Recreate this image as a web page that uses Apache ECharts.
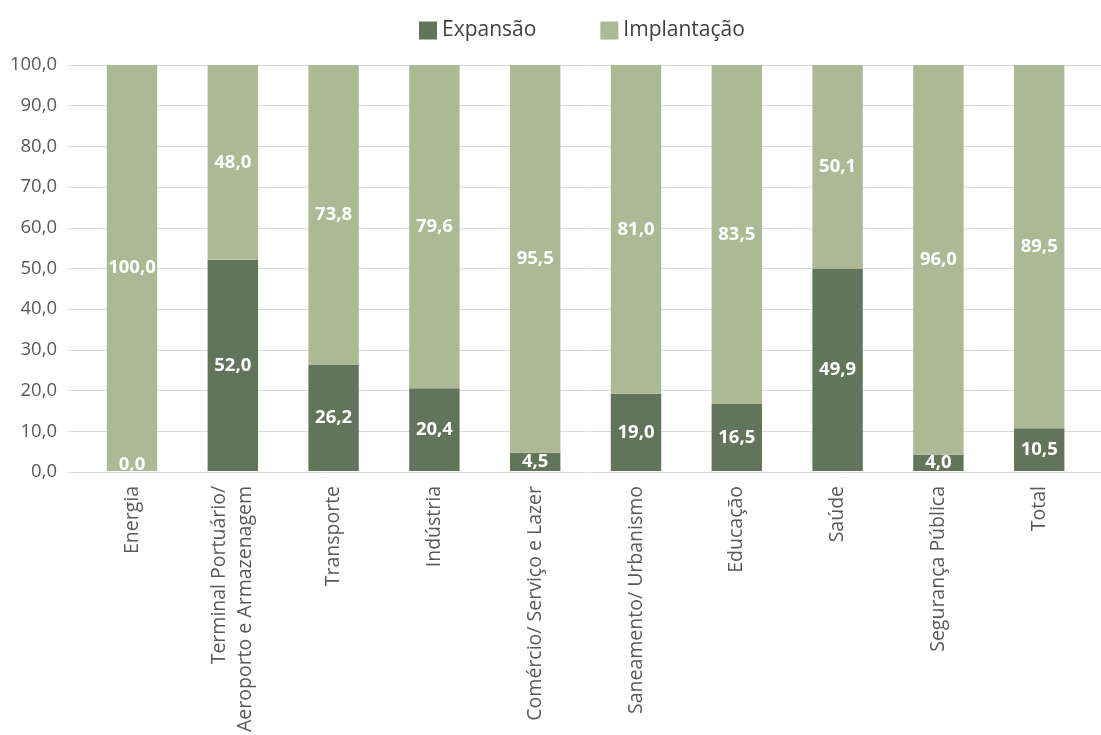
<!DOCTYPE html>
<html>
<head>
<meta charset="utf-8">
<script src="https://cdn.jsdelivr.net/npm/echarts@6/dist/echarts.min.js"></script>
<style>
  html, body { margin: 0; padding: 0; background: #ffffff; }
  #chart { width: 1101px; height: 735px; }
</style>
</head>
<body>
<div id="chart"></div>
<script>
// Share of projects by sector: expansion vs. new implementation (%)
const categories = [
  'Energia',
  'Terminal Portuário/\nAeroporto e Armazenagem',
  'Transporte',
  'Indústria',
  'Comércio/ Serviço e Lazer',
  'Saneamento/ Urbanismo',
  'Educação',
  'Saúde',
  'Segurança Pública',
  'Total'
];
const expansao    = [0.0, 52.0, 26.2, 20.4, 4.5, 19.0, 16.5, 49.9, 4.0, 10.5];
const implantacao = [100.0, 48.0, 73.8, 79.6, 95.5, 81.0, 83.5, 50.1, 96.0, 89.5];
const seriesNames = ['Expansão', 'Implantação'];

const FONT = '"Open Sans", sans-serif';
const fmt = v => v.toFixed(1).replace('.', ',');

const valueLabel = {
  show: true,
  position: 'inside',
  formatter: p => fmt(p.value),
  fontFamily: FONT,
  fontSize: 18.5,
  fontWeight: 'bold',
  color: '#ffffff'
};

// a zero-height segment gets its label just above the baseline
const withZeroLabel = arr => arr.map(v =>
  v === 0 ? { value: v, label: { position: 'top', distance: -3 } } : v
);

const chart = echarts.init(document.getElementById('chart'), null, { renderer: 'canvas' });

const yScale = { type: 'value', min: 0, max: 100, interval: 10 };

chart.setOption({
  animation: false,
  backgroundColor: '#ffffff',
  legend: {
    data: seriesNames,
    left: 414,
    top: 15,
    itemWidth: 18,
    itemHeight: 18,
    itemGap: 64,
    icon: 'rect',
    textStyle: { fontFamily: FONT, fontSize: 21, color: '#404040' }
  },
  grid: [
    // value scale + gridlines spanning the full width
    { left: 68, right: 0, top: 65, bottom: 263 },
    // bars
    { left: 81.6, right: 11.4, top: 65, bottom: 263 }
  ],
  xAxis: [
    { type: 'category', gridIndex: 0, data: categories, show: false },
    {
      type: 'category',
      gridIndex: 1,
      data: categories,
      axisLine: { show: false },
      axisTick: { show: false },
      axisLabel: {
        rotate: 90,
        interval: 0,
        margin: 15,
        fontFamily: FONT,
        fontSize: 19.5,
        color: '#595959',
        lineHeight: 26
      }
    }
  ],
  yAxis: [
    Object.assign({}, yScale, {
      gridIndex: 0,
      axisLine: { show: false },
      axisTick: { show: false },
      splitLine: { show: true, lineStyle: { color: '#d9d9d9', width: 1 } },
      axisLabel: {
        margin: 11,
        fontFamily: FONT,
        fontSize: 18.5,
        color: '#595959',
        formatter: v => fmt(v)
      }
    }),
    Object.assign({}, yScale, {
      gridIndex: 1,
      show: false,
      splitLine: { show: false }
    })
  ],
  series: [
    {
      name: seriesNames[0],
      type: 'bar',
      stack: 'total',
      xAxisIndex: 1,
      yAxisIndex: 1,
      barWidth: '50%',
      data: withZeroLabel(expansao),
      itemStyle: { color: '#62745a' },
      label: valueLabel
    },
    {
      name: seriesNames[1],
      type: 'bar',
      stack: 'total',
      xAxisIndex: 1,
      yAxisIndex: 1,
      barWidth: '50%',
      data: implantacao,
      itemStyle: { color: '#adb994' },
      label: valueLabel
    }
  ]
});
</script>
</body>
</html>
